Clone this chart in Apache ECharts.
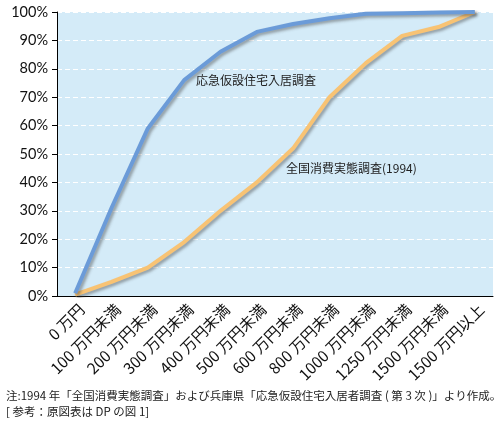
<!DOCTYPE html>
<html>
<head>
<meta charset="utf-8">
<script src="https://cdn.jsdelivr.net/npm/echarts@6/dist/echarts.min.js"></script>
<style>
  html, body { margin: 0; padding: 0; background: #fff; }
  #chart { width: 502px; height: 425px; }
</style>
</head>
<body>
<div id="chart"></div>
<script>
// income brackets (x axis)
var categories = ['0 万円', '100 万円未満', '200 万円未満', '300 万円未満', '400 万円未満',
    '500 万円未満', '600 万円未満', '800 万円未満', '1000 万円未満', '1250 万円未満',
    '1500 万円未満', '1500 万円以上'];
// cumulative share, %
var kasetsu = [1, 31, 59, 76, 86, 93, 95.8, 97.8, 99.4, 99.6, 99.8, 100];
var zenkoku = [0.5, 5, 10, 19, 30, 40, 52, 70, 82, 91.6, 94.7, 100];
var note1 = '注:1994 年「全国消費実態調査」および兵庫県「応急仮設住宅入居者調査 ( 第 3 次 )」より作成。';
var note2 = '[ 参考：原図表は DP の図 1]';

var font = '"Noto Sans CJK JP", "Noto Sans", sans-serif';
var myChart = echarts.init(document.getElementById('chart'));

var lineShadow = {
    shadowColor: 'rgba(60, 60, 60, 0.45)',
    shadowBlur: 3,
    shadowOffsetX: 2,
    shadowOffsetY: 2
};

option = {
    animation: false,
    textStyle: { fontFamily: font },
    grid: { left: 57, right: 9, top: 12, bottom: 129, show: true,
        backgroundColor: '#d4ebf8', borderWidth: 0 },
    xAxis: {
        type: 'category',
        data: categories,
        boundaryGap: true,
        axisLine: { lineStyle: { color: '#000', width: 1 } },
        axisTick: { lineStyle: { color: '#000' }, length: 5 },
        axisLabel: { rotate: 45, color: '#111', fontSize: 15.5, margin: 17,
            padding: [0, -9, 0, 0], fontFamily: font, interval: 0 }
    },
    yAxis: {
        type: 'value',
        min: 0, max: 100, interval: 10,
        axisLine: { show: true, lineStyle: { color: '#000' } },
        axisTick: { show: true, length: 5, lineStyle: { color: '#000' } },
        axisLabel: { formatter: '{value}%', color: '#111', fontSize: 14.5, margin: 9,
            fontFamily: 'Lato, "Noto Sans", sans-serif' },
        splitLine: { lineStyle: { color: '#fff', type: [5, 3], width: 1 } }
    },
    graphic: [
        { type: 'text', left: 196, top: 74,
          style: { text: '応急仮設住宅入居調査', fill: '#222', font: '12px ' + font } },
        { type: 'text', left: 286, top: 162,
          style: { text: '全国消費実態調査(1994)', fill: '#222', font: '12px ' + font } },
        { type: 'text', left: 6, top: 390,
          style: { text: note1, fill: '#222', font: '11.5px ' + font } },
        { type: 'text', left: 6, top: 406,
          style: { text: note2, fill: '#222', font: '11.5px ' + font } }
    ],
    series: [
        {
            name: '応急仮設住宅入居調査',
            type: 'line',
            data: kasetsu,
            symbol: 'none',
            lineStyle: Object.assign({ color: '#6b9bd8', width: 4 }, lineShadow),
            z: 3
        },
        {
            name: '全国消費実態調査(1994)',
            type: 'line',
            data: zenkoku,
            symbol: 'none',
            lineStyle: Object.assign({ color: '#f8c374', width: 4 }, lineShadow),
            z: 2
        }
    ]
};
myChart.setOption(option);
</script>
</body>
</html>
